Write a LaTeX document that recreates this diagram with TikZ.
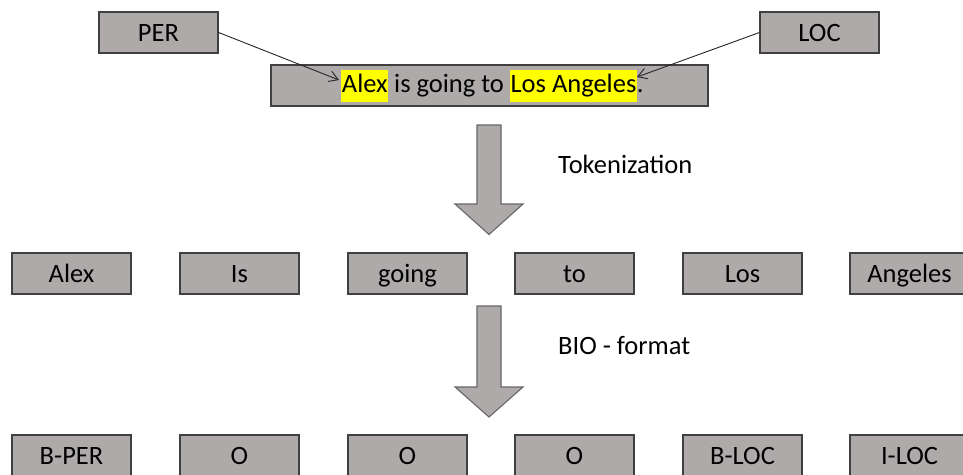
\documentclass[tikz,border=0pt]{standalone}
\usepackage{fontspec}
\setmainfont{Carlito}
\usetikzlibrary{arrows.meta}
\definecolor{boxfill}{HTML}{AEAAAA}
\definecolor{boxline}{HTML}{404040}
\definecolor{hlyellow}{HTML}{FFFF00}
\newcommand\hlword[1]{{\setlength\fboxsep{0.6pt}\colorbox{hlyellow}{\strut #1}}}
\newcommand\boxfont{\fontsize{26.5}{30}\selectfont}
\tikzset{
  tagbox/.style={draw=boxline, line width=1.1pt, fill=boxfill,
    minimum width=119pt, minimum height=41pt, inner sep=0pt,
    text height=17pt, text depth=0pt,
    font=\boxfont, text=black},
  sentbox/.style={tagbox, minimum width=437pt, text height=22pt, text depth=9pt},
  pointer/.style={draw=black!85, line width=0.9pt,
    -{Straight Barb[length=9pt, width=11pt, line width=0.9pt]}},
  blockarrow/.style={draw=boxline!80, line width=1.1pt, fill=boxfill},
  steplabel/.style={anchor=west, inner sep=0pt, font=\boxfont,
    text height=17pt, text depth=0pt}
}
\begin{document}
\begin{tikzpicture}[x=1pt, y=-1pt]
  \useasboundingbox (0,0) rectangle (963,474);
  \clip (0,0) rectangle (963,474);

  % frame of the source sentence, with the sentence set a little right of centre
  \node[sentbox] (sent) at (489.5,85.5) {};
  \node[font=\boxfont, inner sep=0pt, text height=22pt, text depth=9pt]
    (senttext) at (492.5,85.5)
    {\hlword{Alex} is going to \hlword{Los Angeles}.};

  % entity labels pointing at their words
  \node[tagbox] (per) at (158.5,32.5) {PER};
  \node[tagbox] (loc) at (819.5,32.5) {LOC};
  \coordinate (pertip) at (339,80);
  \coordinate (loctip) at (637,77);
  \draw[pointer] (per.east) -- (pertip);
  \draw[pointer] (loc.west) -- (loctip);

  % tokenization step
  \draw[blockarrow] (477,125) -- (501,125) -- (501,204) -- (523,204)
    -- (489,234.5) -- (455,204) -- (477,204) -- cycle;
  \node[steplabel] (toklabel) at (558,165) {Tokenization};

  % tokens
  \node[tagbox] (t1) at (71.5,273.5)  {Alex};
  \node[tagbox] (t2) at (239.5,273.5) {Is};
  \node[tagbox] (t3) at (407.5,273.5) {going};
  \node[tagbox] (t4) at (574.5,273.5) {to};
  \node[tagbox] (t5) at (742.5,273.5) {Los};
  \node[tagbox] (t6) at (909.5,273.5) {Angeles};

  % BIO tagging step
  \draw[blockarrow] (477,306) -- (501,306) -- (501,387) -- (523,387)
    -- (489,417) -- (455,387) -- (477,387) -- cycle;
  \node[steplabel] (biolabel) at (558,346) {BIO - format};

  % BIO tags
  \node[tagbox] (b1) at (71.5,455.5)  {B-PER};
  \node[tagbox] (b2) at (239.5,455.5) {O};
  \node[tagbox] (b3) at (407.5,455.5) {O};
  \node[tagbox] (b4) at (574.5,455.5) {O};
  \node[tagbox] (b5) at (742.5,455.5) {B-LOC};
  \node[tagbox] (b6) at (909.5,455.5) {I-LOC};
\end{tikzpicture}
\end{document}
